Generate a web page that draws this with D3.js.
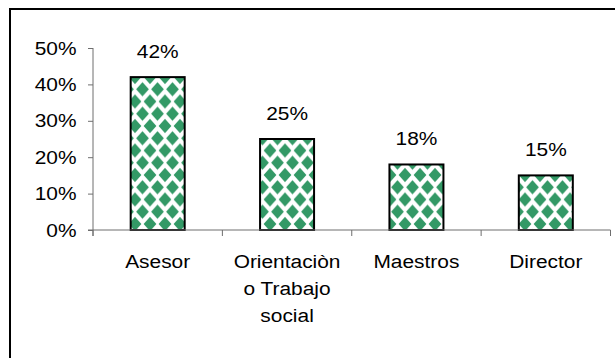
<!DOCTYPE html>
<html><head><meta charset="utf-8">
<script src="https://cdn.jsdelivr.net/npm/d3@7"></script>
<style>html,body{margin:0;padding:0;background:#fff;}svg{display:block;}</style>
</head><body>
<script>
const categories = [["Asesor"], ["Orientaciòn", "o Trabajo", "social"], ["Maestros"], ["Director"]];
const values = [0.42, 0.25, 0.18, 0.15];
const valueLabels = ["42%", "25%", "18%", "15%"];
const yTicks = [0, 0.1, 0.2, 0.3, 0.4, 0.5];

const W = 615, H = 358;
const svg = d3.select("body").append("svg").attr("width", W).attr("height", H);
const font = "'Liberation Sans', Arial, sans-serif";
const fs = 19, sx = 1.1;

// pattern
const defs = svg.append("defs");
const pw = 15, ph = 24.5;
const pat = defs.append("pattern").attr("id", "dia").attr("patternUnits", "userSpaceOnUse")
  .attr("width", pw).attr("height", ph).attr("x", 0).attr("y", 175);
pat.append("rect").attr("width", pw).attr("height", ph).attr("fill", "#fff");
const hw = 6.4, hh = 7;
const centers = [[0,0],[pw,0],[0,ph],[pw,ph],[pw/2,ph/2]];
centers.forEach(([cx,cy]) => {
  pat.append("path").attr("d", `M${cx-hw},${cy}L${cx},${cy-hh}L${cx+hw},${cy}L${cx},${cy+hh}Z`).attr("fill", "#339966");
});

// frame
svg.append("rect").attr("x", 10).attr("y", 9).attr("width", 700).attr("height", 400)
  .attr("fill", "none").attr("stroke", "#000").attr("stroke-width", 2);

const x0 = 93, x1 = 610.5, yBottom = 230, yTop = 48;
const x = d3.scaleBand().domain(d3.range(categories.length)).range([x0, x1]).paddingInner(0).paddingOuter(0);
const y = d3.scaleLinear().domain([0, 0.5]).range([yBottom, yTop]);
const axisColor = "#6e6e6e";

// y axis
const yAxis = svg.append("g").attr("transform", `translate(${x0},0)`)
  .call(d3.axisLeft(y).tickValues(yTicks).tickFormat(d3.format(".0%")).tickSize(5));
yAxis.select(".domain").attr("stroke", axisColor).attr("d", `M0,${yTop}V${yBottom+6}`);
yAxis.selectAll(".tick line").attr("stroke", axisColor);
yAxis.selectAll("text").attr("font-family", font).attr("font-size", fs).attr("fill", "#000")
  .attr("x", -16.5 / sx).attr("transform", `scale(${sx},1)`);

// bars
const bw = 54;
svg.append("g").selectAll("rect").data(values).join("rect")
  .attr("x", (d,i) => x(i) + x.bandwidth()/2 - bw/2)
  .attr("y", d => y(d))
  .attr("width", bw)
  .attr("height", d => y(0) - y(d))
  .attr("fill", "url(#dia)")
  .attr("stroke", "#000").attr("stroke-width", 2);

// x axis
const xg = svg.append("g");
xg.append("line").attr("x1", x0 - 5).attr("x2", x1).attr("y1", yBottom).attr("y2", yBottom).attr("stroke", axisColor);
const bounds = d3.range(categories.length + 1).map(i => i < categories.length ? x(i) : x1);
xg.selectAll("line.t").data(bounds).join("line").attr("class", "t")
  .attr("x1", d => d).attr("x2", d => d).attr("y1", yBottom).attr("y2", yBottom + 6).attr("stroke", axisColor);

// value labels
svg.append("g").selectAll("text").data(values).join("text")
  .attr("transform", (d,i) => `translate(${x(i) + x.bandwidth()/2},${y(d) - 19}) scale(${sx},1)`)
  .attr("text-anchor", "middle").attr("font-family", font).attr("font-size", fs)
  .text((d,i) => valueLabels[i]);

// category labels
const cg = svg.append("g").selectAll("text").data(categories).join("text")
  .attr("transform", (d,i) => `translate(${x(i) + x.bandwidth()/2},268) scale(${sx},1)`)
  .attr("text-anchor", "middle").attr("font-family", font).attr("font-size", fs);
cg.each(function(lines) {
  const t = d3.select(this);
  lines.forEach((l, j) => t.append("tspan").attr("x", 0).attr("y", j*27).text(l));
});
</script>
</body></html>
